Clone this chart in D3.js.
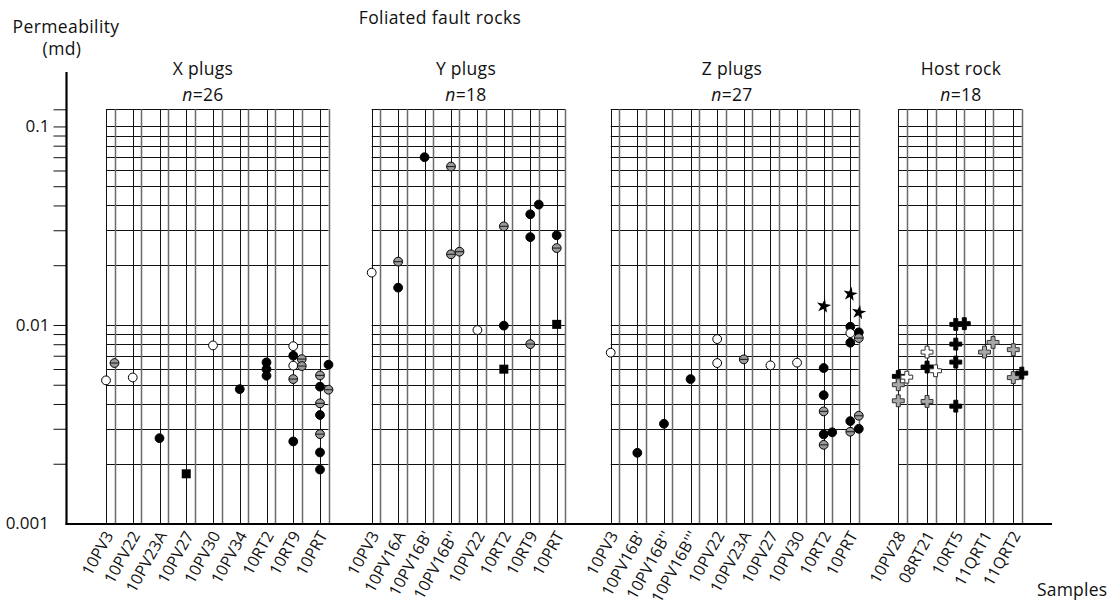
<!DOCTYPE html>
<html><head><meta charset="utf-8">
<script src="https://cdn.jsdelivr.net/npm/d3@7"></script>
<style>
body{margin:0;background:#fff}
text{font-family:"Open Sans",sans-serif;fill:#111}
</style>
</head><body>
<svg id="c" width="1116" height="609"></svg>
<script>
// ---------- data ----------
const xSamples = ["10PV3","10PV22","10PV23A","10PV27","10PV30","10PV34","10RT2","10RT9","10PRT"];
const ySamples = ["10PV3","10PV16A","10PV16B'","10PV16B''","10PV22","10RT2","10RT9","10PRT"];
const zSamples = ["10PV3","10PV16B'","10PV16B''","10PV16B'''","10PV22","10PV23A","10PV27","10PV30","10RT2","10PRT"];
const hostSamples = ["10PV28","08RT21","10RT5","11QRT1","11QRT2"];

// [sample, sub-column, permeability (md), marker type]
const xPoints = [
  ["10PV3","a",0.00526,"open"],["10PV3","b",0.00643,"gray"],
  ["10PV22","a",0.00544,"open"],
  ["10PV23A","a",0.00269,"black"],
  ["10PV27","a",0.00178,"square"],
  ["10PV30","a",0.00789,"open"],
  ["10PV34","a",0.00475,"black"],
  ["10RT2","a",0.00648,"black"],["10RT2","a",0.00599,"black"],["10RT2","a",0.00555,"black"],
  ["10RT9","a",0.00782,"open"],["10RT9","a",0.00700,"black"],["10RT9","a",0.00624,"open"],
  ["10RT9","a",0.00534,"gray"],["10RT9","a",0.00259,"black"],
  ["10RT9","b",0.00673,"gray"],["10RT9","b",0.00621,"gray"],
  ["10PRT","b",0.00631,"black"],["10PRT","a",0.00557,"gray"],["10PRT","a",0.00489,"black"],
  ["10PRT","b",0.00472,"gray"],["10PRT","a",0.00403,"gray"],["10PRT","a",0.00352,"black"],
  ["10PRT","a",0.00282,"gray"],["10PRT","a",0.00228,"black"],["10PRT","a",0.00187,"black"]
];
const yPoints = [
  ["10PV3","a",0.01835,"open"],
  ["10PV16A","a",0.02085,"gray"],["10PV16A","a",0.01542,"black"],
  ["10PV16B'","a",0.0700,"black"],
  ["10PV16B''","a",0.0628,"gray"],["10PV16B''","a",0.0227,"gray"],["10PV16B''","b",0.0234,"gray"],
  ["10PV22","a",0.00943,"open"],
  ["10RT2","a",0.0314,"gray"],["10RT2","a",0.00992,"black"],["10RT2","a",0.00599,"square"],
  ["10RT9","a",0.0361,"black"],["10RT9","b",0.0404,"black"],["10RT9","a",0.0277,"black"],["10RT9","a",0.00801,"gray"],
  ["10PRT","a",0.0283,"black"],["10PRT","a",0.0244,"gray"],["10PRT","a",0.01007,"square"]
];
const zPoints = [
  ["10PV3","a",0.00725,"open"],
  ["10PV16B'","a",0.00227,"black"],
  ["10PV16B''","a",0.00318,"black"],
  ["10PV16B'''","a",0.00534,"black"],
  ["10PV22","a",0.00849,"open"],["10PV22","a",0.00643,"open"],
  ["10PV23A","a",0.00671,"gray"],
  ["10PV27","a",0.00626,"open"],
  ["10PV30","a",0.00646,"open"],
  ["10RT2","a",0.01245,"star"],["10RT2","a",0.00607,"black"],["10RT2","a",0.00443,"black"],
  ["10RT2","a",0.00367,"gray"],["10RT2","a",0.00281,"black"],["10RT2","b",0.00288,"black"],["10RT2","a",0.00249,"gray"],
  ["10PRT","a",0.0143,"star"],["10PRT","b",0.01157,"star"],["10PRT","a",0.00980,"black"],
  ["10PRT","b",0.00918,"black"],["10PRT","a",0.00910,"open"],["10PRT","b",0.00859,"gray"],
  ["10PRT","a",0.00814,"black"],["10PRT","a",0.00328,"black"],["10PRT","a",0.00290,"gray"],
  ["10PRT","b",0.00349,"gray"],["10PRT","b",0.00300,"black"]
];
const hostPoints = [
  ["10PV28","a",0.00551,"crossB"],["10PV28","a",0.00500,"crossG"],["10PV28","b",0.00546,"crossW"],["10PV28","a",0.00415,"crossG"],
  ["08RT21","a",0.00730,"crossW"],["08RT21","a",0.00614,"crossB"],["08RT21","b",0.00588,"crossW"],["08RT21","a",0.00412,"crossG"],
  ["10RT5","a",0.01007,"crossB"],["10RT5","b",0.01015,"crossB"],["10RT5","a",0.00801,"crossB"],["10RT5","a",0.00650,"crossB"],["10RT5","a",0.00390,"crossB"],
  ["11QRT1","a",0.00730,"crossG"],["11QRT1","b",0.00817,"crossG"],
  ["11QRT2","a",0.00751,"crossG"],["11QRT2","a",0.00543,"crossG"],["11QRT2","b",0.00572,"crossB"]
];
const yTickLabels = {"0.1":"0.1","0.01":"0.01","0.001":"0.001"};

// ---------- layout ----------
const svg = d3.select("#c");
const y = d3.scaleLog().domain([0.001, 0.122]).range([523.5, 109.3]);
const gridVals = y.ticks().filter(v => v > 0.00101).concat([y.domain()[1]]);
const SUB = 8.5;
const TFS = 17.5;

const panels = [
  {title:"X plugs", samples:xSamples, points:xPoints, r:[106, 320], tx:203},
  {title:"Y plugs", samples:ySamples, points:yPoints, r:[371.7, 556.7], tx:466},
  {title:"Z plugs", samples:zSamples, points:zPoints, r:[610.7, 850.3], tx:732},
  {title:"Host rock", samples:hostSamples, points:hostPoints, r:[898.3, 1013.3], tx:961}
];

const gridG = svg.append("g");
const markG = svg.append("g");

panels.forEach(p => {
  const x = d3.scalePoint().domain(p.samples).range(p.r);
  const left = x(p.samples[0]), right = x(p.samples[p.samples.length-1]) + SUB;
  gridG.append("g").selectAll("line").data(gridVals).join("line")
    .attr("x1", left).attr("x2", right)
    .attr("y1", d => Math.round(y(d)) + 0.5).attr("y2", d => Math.round(y(d)) + 0.5)
    .attr("stroke", "#111").attr("stroke-width", 1);
  const vg = gridG.append("g");
  vg.selectAll("line.a").data(p.samples).join("line").attr("class","a")
    .attr("x1", d => Math.round(x(d)) + 0.5).attr("x2", d => Math.round(x(d)) + 0.5)
    .attr("y1", y.range()[1]).attr("y2", y.range()[0])
    .attr("stroke", "#111").attr("stroke-width", 1);
  vg.selectAll("line.b").data(p.samples).join("line").attr("class","b")
    .attr("x1", d => Math.round(x(d) + SUB) + 0.5).attr("x2", d => Math.round(x(d) + SUB) + 0.5)
    .attr("y1", y.range()[1]).attr("y2", y.range()[0])
    .attr("stroke", "#6a6a6a").attr("stroke-width", 1.5);
  gridG.append("g").selectAll("text").data(p.samples).join("text")
    .attr("transform", d => `translate(${x(d) + 8},${535}) rotate(-61)`)
    .attr("text-anchor", "end").attr("font-size", 16).attr("letter-spacing", 0.2).text(d => d);
  svg.append("text").attr("x", p.tx).attr("y", 75).attr("text-anchor","middle")
    .attr("font-size", TFS).attr("letter-spacing", 0.3).text(p.title);
  const nt = svg.append("text").attr("x", p.tx).attr("y", 101).attr("text-anchor","middle")
    .attr("font-size", TFS).attr("letter-spacing", 0.3);
  nt.append("tspan").attr("font-style","italic").text("n");
  nt.append("tspan").text("=" + p.points.length);

  const star = d3.symbol().type(d3.symbolStar).size(64)();
  const cross = d3.symbol().type(d3.symbolCross).size(78)();
  p.points.forEach(([s, c, v, t]) => {
    const cx = x(s) + (c === "b" ? SUB : 0), cy = y(v);
    const g = markG.append("g").attr("transform", `translate(${cx},${cy})`);
    if (t === "open" || t === "gray" || t === "black") {
      g.append("circle").attr("r", 4.4)
        .attr("fill", t === "open" ? "#fff" : t === "gray" ? "#9a9a9a" : "#000")
        .attr("stroke", "#000").attr("stroke-width", 1);
      if (t === "gray") g.append("line").attr("x1", -4.2).attr("x2", 4.2).attr("stroke", "#222").attr("stroke-width", 1.1);
    } else if (t === "square") {
      g.append("rect").attr("x", -4.5).attr("y", -4.5).attr("width", 9).attr("height", 9).attr("fill", "#000");
    } else if (t === "star") {
      g.append("path").attr("d", star).attr("fill", "#000").attr("transform","rotate(10)");
    } else {
      g.append("path").attr("d", cross)
        .attr("fill", t === "crossB" ? "#000" : t === "crossW" ? "#fff" : "#a8a8a8")
        .attr("stroke", t === "crossB" ? "#000" : "#333").attr("stroke-width", 1);
    }
  });
});

// y axis
const axis = d3.axisLeft(y).tickValues(gridVals).tickSize(13).tickPadding(4)
  .tickFormat(d => yTickLabels[String(+d.toPrecision(3))] || "");
const ag = svg.append("g").attr("transform", "translate(66.5,0)").call(axis);
ag.select(".domain").remove();
ag.selectAll(".tick line").attr("stroke", "#111");
ag.selectAll(".tick text").attr("font-size", 17).attr("font-family", '"Open Sans",sans-serif').attr("fill", "#111");
svg.append("text").attr("x", 49).attr("y", y(0.001)).attr("dy", "0.35em").attr("text-anchor","end")
  .attr("font-size", 17).text(yTickLabels["0.001"]);
svg.append("line").attr("x1", 66.5).attr("x2", 66.5).attr("y1", 72).attr("y2", y.range()[0] + 1)
  .attr("stroke", "#000").attr("stroke-width", 2.2);
svg.append("line").attr("x1", 65.5).attr("x2", 1052).attr("y1", y.range()[0] + 0.5).attr("y2", y.range()[0] + 0.5)
  .attr("stroke", "#000").attr("stroke-width", 2.2);

// titles
svg.append("text").attr("x", 66).attr("y", 33).attr("text-anchor","middle").attr("font-size", TFS).attr("letter-spacing", 0.4).text("Permeability");
svg.append("text").attr("x", 62).attr("y", 55).attr("text-anchor","middle").attr("font-size", TFS).attr("letter-spacing", 0.4).text("(md)");
svg.append("text").attr("x", 440).attr("y", 24).attr("text-anchor","middle").attr("font-size", TFS).attr("letter-spacing", 0.4).text("Foliated fault rocks");
svg.append("text").attr("x", 1037).attr("y", 596).attr("font-size", TFS).attr("letter-spacing", 0.2).text("Samples");
</script>
</body></html>
